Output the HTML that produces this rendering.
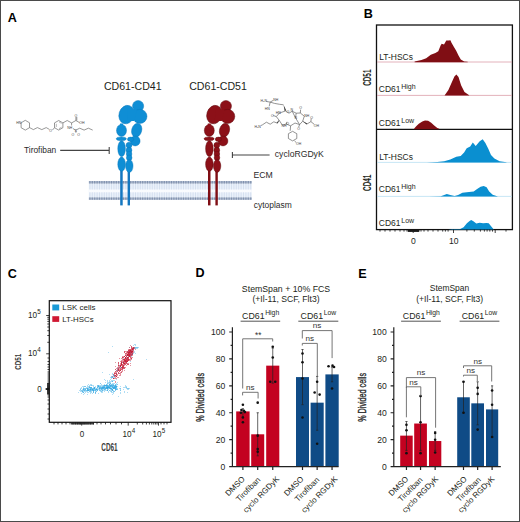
<!DOCTYPE html>
<html><head><meta charset="utf-8"><style>
html,body{margin:0;padding:0;background:#fff;width:520px;height:522px;overflow:hidden}
svg{display:block}
text{font-family:"Liberation Sans",sans-serif}
</style></head><body>
<svg width="520" height="522" viewBox="0 0 520 522" font-family="Liberation Sans, sans-serif"><text x="7.8" y="22.2" font-size="12.6" text-anchor="start" font-weight="bold" fill="#000" >A</text>
<text x="363.8" y="18.2" font-size="12.6" text-anchor="start" font-weight="bold" fill="#000" >B</text>
<text x="7.8" y="277.9" font-size="12.6" text-anchor="start" font-weight="bold" fill="#000" >C</text>
<text x="195.4" y="277.3" font-size="12.6" text-anchor="start" font-weight="bold" fill="#000" >D</text>
<text x="358.2" y="277.5" font-size="12.6" text-anchor="start" font-weight="bold" fill="#000" >E</text>
<text x="103.9" y="89.6" font-size="10.6" text-anchor="start" font-weight="normal" fill="#231f20" >CD61-CD41</text>
<text x="189.2" y="89.6" font-size="10.6" text-anchor="start" font-weight="normal" fill="#231f20" >CD61-CD51</text>
<rect x="88.8" y="183.4" width="163" height="14" fill="#ebf2fb"/><rect x="88.8" y="189.4" width="163" height="3" fill="#f9fbfe"/><path d="M89.9 183.5V189.5M89.9 192.3V197.5M92.3 183.5V189.5M92.3 192.3V197.5M94.7 183.5V189.5M94.7 192.3V197.5M97.1 183.5V189.5M97.1 192.3V197.5M99.5 183.5V189.5M99.5 192.3V197.5M101.9 183.5V189.5M101.9 192.3V197.5M104.3 183.5V189.5M104.3 192.3V197.5M106.7 183.5V189.5M106.7 192.3V197.5M109.1 183.5V189.5M109.1 192.3V197.5M111.5 183.5V189.5M111.5 192.3V197.5M113.9 183.5V189.5M113.9 192.3V197.5M116.3 183.5V189.5M116.3 192.3V197.5M118.7 183.5V189.5M118.7 192.3V197.5M121.1 183.5V189.5M121.1 192.3V197.5M123.5 183.5V189.5M123.5 192.3V197.5M125.9 183.5V189.5M125.9 192.3V197.5M128.3 183.5V189.5M128.3 192.3V197.5M130.7 183.5V189.5M130.7 192.3V197.5M133.1 183.5V189.5M133.1 192.3V197.5M135.5 183.5V189.5M135.5 192.3V197.5M137.9 183.5V189.5M137.9 192.3V197.5M140.3 183.5V189.5M140.3 192.3V197.5M142.7 183.5V189.5M142.7 192.3V197.5M145.1 183.5V189.5M145.1 192.3V197.5M147.5 183.5V189.5M147.5 192.3V197.5M149.9 183.5V189.5M149.9 192.3V197.5M152.3 183.5V189.5M152.3 192.3V197.5M154.7 183.5V189.5M154.7 192.3V197.5M157.1 183.5V189.5M157.1 192.3V197.5M159.5 183.5V189.5M159.5 192.3V197.5M161.9 183.5V189.5M161.9 192.3V197.5M164.3 183.5V189.5M164.3 192.3V197.5M166.7 183.5V189.5M166.7 192.3V197.5M169.1 183.5V189.5M169.1 192.3V197.5M171.5 183.5V189.5M171.5 192.3V197.5M173.9 183.5V189.5M173.9 192.3V197.5M176.3 183.5V189.5M176.3 192.3V197.5M178.7 183.5V189.5M178.7 192.3V197.5M181.1 183.5V189.5M181.1 192.3V197.5M183.5 183.5V189.5M183.5 192.3V197.5M185.9 183.5V189.5M185.9 192.3V197.5M188.3 183.5V189.5M188.3 192.3V197.5M190.7 183.5V189.5M190.7 192.3V197.5M193.1 183.5V189.5M193.1 192.3V197.5M195.5 183.5V189.5M195.5 192.3V197.5M197.9 183.5V189.5M197.9 192.3V197.5M200.3 183.5V189.5M200.3 192.3V197.5M202.7 183.5V189.5M202.7 192.3V197.5M205.1 183.5V189.5M205.1 192.3V197.5M207.5 183.5V189.5M207.5 192.3V197.5M209.9 183.5V189.5M209.9 192.3V197.5M212.3 183.5V189.5M212.3 192.3V197.5M214.7 183.5V189.5M214.7 192.3V197.5M217.1 183.5V189.5M217.1 192.3V197.5M219.5 183.5V189.5M219.5 192.3V197.5M221.9 183.5V189.5M221.9 192.3V197.5M224.3 183.5V189.5M224.3 192.3V197.5M226.7 183.5V189.5M226.7 192.3V197.5M229.1 183.5V189.5M229.1 192.3V197.5M231.5 183.5V189.5M231.5 192.3V197.5M233.9 183.5V189.5M233.9 192.3V197.5M236.3 183.5V189.5M236.3 192.3V197.5M238.7 183.5V189.5M238.7 192.3V197.5M241.1 183.5V189.5M241.1 192.3V197.5M243.5 183.5V189.5M243.5 192.3V197.5M245.9 183.5V189.5M245.9 192.3V197.5M248.3 183.5V189.5M248.3 192.3V197.5M250.7 183.5V189.5M250.7 192.3V197.5" stroke="#cfdbec" stroke-width="0.8" fill="none"/><rect x="88.8" y="181.1" width="163" height="2.4" fill="#b2bed2"/><rect x="88.8" y="197.4" width="163" height="2.4" fill="#b2bed2"/><path d="M89.9 181.1v2.4M89.9 197.4v2.4M92.3 181.1v2.4M92.3 197.4v2.4M94.7 181.1v2.4M94.7 197.4v2.4M97.1 181.1v2.4M97.1 197.4v2.4M99.5 181.1v2.4M99.5 197.4v2.4M101.9 181.1v2.4M101.9 197.4v2.4M104.3 181.1v2.4M104.3 197.4v2.4M106.7 181.1v2.4M106.7 197.4v2.4M109.1 181.1v2.4M109.1 197.4v2.4M111.5 181.1v2.4M111.5 197.4v2.4M113.9 181.1v2.4M113.9 197.4v2.4M116.3 181.1v2.4M116.3 197.4v2.4M118.7 181.1v2.4M118.7 197.4v2.4M121.1 181.1v2.4M121.1 197.4v2.4M123.5 181.1v2.4M123.5 197.4v2.4M125.9 181.1v2.4M125.9 197.4v2.4M128.3 181.1v2.4M128.3 197.4v2.4M130.7 181.1v2.4M130.7 197.4v2.4M133.1 181.1v2.4M133.1 197.4v2.4M135.5 181.1v2.4M135.5 197.4v2.4M137.9 181.1v2.4M137.9 197.4v2.4M140.3 181.1v2.4M140.3 197.4v2.4M142.7 181.1v2.4M142.7 197.4v2.4M145.1 181.1v2.4M145.1 197.4v2.4M147.5 181.1v2.4M147.5 197.4v2.4M149.9 181.1v2.4M149.9 197.4v2.4M152.3 181.1v2.4M152.3 197.4v2.4M154.7 181.1v2.4M154.7 197.4v2.4M157.1 181.1v2.4M157.1 197.4v2.4M159.5 181.1v2.4M159.5 197.4v2.4M161.9 181.1v2.4M161.9 197.4v2.4M164.3 181.1v2.4M164.3 197.4v2.4M166.7 181.1v2.4M166.7 197.4v2.4M169.1 181.1v2.4M169.1 197.4v2.4M171.5 181.1v2.4M171.5 197.4v2.4M173.9 181.1v2.4M173.9 197.4v2.4M176.3 181.1v2.4M176.3 197.4v2.4M178.7 181.1v2.4M178.7 197.4v2.4M181.1 181.1v2.4M181.1 197.4v2.4M183.5 181.1v2.4M183.5 197.4v2.4M185.9 181.1v2.4M185.9 197.4v2.4M188.3 181.1v2.4M188.3 197.4v2.4M190.7 181.1v2.4M190.7 197.4v2.4M193.1 181.1v2.4M193.1 197.4v2.4M195.5 181.1v2.4M195.5 197.4v2.4M197.9 181.1v2.4M197.9 197.4v2.4M200.3 181.1v2.4M200.3 197.4v2.4M202.7 181.1v2.4M202.7 197.4v2.4M205.1 181.1v2.4M205.1 197.4v2.4M207.5 181.1v2.4M207.5 197.4v2.4M209.9 181.1v2.4M209.9 197.4v2.4M212.3 181.1v2.4M212.3 197.4v2.4M214.7 181.1v2.4M214.7 197.4v2.4M217.1 181.1v2.4M217.1 197.4v2.4M219.5 181.1v2.4M219.5 197.4v2.4M221.9 181.1v2.4M221.9 197.4v2.4M224.3 181.1v2.4M224.3 197.4v2.4M226.7 181.1v2.4M226.7 197.4v2.4M229.1 181.1v2.4M229.1 197.4v2.4M231.5 181.1v2.4M231.5 197.4v2.4M233.9 181.1v2.4M233.9 197.4v2.4M236.3 181.1v2.4M236.3 197.4v2.4M238.7 181.1v2.4M238.7 197.4v2.4M241.1 181.1v2.4M241.1 197.4v2.4M243.5 181.1v2.4M243.5 197.4v2.4M245.9 181.1v2.4M245.9 197.4v2.4M248.3 181.1v2.4M248.3 197.4v2.4M250.7 181.1v2.4M250.7 197.4v2.4" stroke="#8192ae" stroke-width="1.2" fill="none"/>
<g transform="translate(0,0)" fill="#0f8ed5" stroke="#0a78bd" stroke-width="0.45"><rect x="120.2" y="166" width="2.5" height="39.4" fill="#1477c0" stroke="none"/><rect x="127.6" y="166" width="2.4" height="39.4" fill="#1477c0" stroke="none"/><ellipse cx="126.6" cy="114.6" rx="7.6" ry="9.4" transform="rotate(18 126.6 114.6)"/><circle cx="138.1" cy="106.1" r="5.6"/><circle cx="139.9" cy="116.4" r="7.1"/><path d="M128 108L137 110L134 121L127 121Z" stroke="none"/><ellipse cx="121.5" cy="130.4" rx="5" ry="6"/><path d="M120 123.5h3v2h-3z" stroke="none"/><ellipse cx="121.3" cy="138.8" rx="5.1" ry="1.9"/><ellipse cx="121.6" cy="148.7" rx="3.8" ry="8"/><ellipse cx="121.6" cy="164.2" rx="3.8" ry="7.1"/><ellipse cx="136.7" cy="130.2" rx="5" ry="7" transform="rotate(15 136.7 130.2)"/><circle cx="135.2" cy="141" r="4.9"/><ellipse cx="130.6" cy="139.3" rx="3.1" ry="2.2"/><circle cx="129" cy="145.2" r="2.9"/><circle cx="129" cy="150.2" r="2.9"/><circle cx="129.1" cy="154" r="2.8"/><circle cx="129.2" cy="157.8" r="2.8"/><ellipse cx="129.3" cy="166" rx="3.7" ry="6.4"/></g>
<g transform="translate(87.8,0)" fill="#8c1018" stroke="#5e0a0e" stroke-width="0.45"><rect x="120.2" y="166" width="2.5" height="39.4" fill="#7f0e14" stroke="none"/><rect x="127.6" y="166" width="2.4" height="39.4" fill="#7f0e14" stroke="none"/><ellipse cx="126.6" cy="114.6" rx="7.6" ry="9.4" transform="rotate(18 126.6 114.6)"/><circle cx="138.1" cy="106.1" r="5.6"/><circle cx="139.9" cy="116.4" r="7.1"/><path d="M128 108L137 110L134 121L127 121Z" stroke="none"/><ellipse cx="121.5" cy="130.4" rx="5" ry="6"/><path d="M120 123.5h3v2h-3z" stroke="none"/><ellipse cx="121.3" cy="138.8" rx="5.1" ry="1.9"/><ellipse cx="121.6" cy="148.7" rx="3.8" ry="8"/><ellipse cx="121.6" cy="164.2" rx="3.8" ry="7.1"/><ellipse cx="136.7" cy="130.2" rx="5" ry="7" transform="rotate(15 136.7 130.2)"/><circle cx="135.2" cy="141" r="4.9"/><ellipse cx="130.6" cy="139.3" rx="3.1" ry="2.2"/><circle cx="129" cy="145.2" r="2.9"/><circle cx="129" cy="150.2" r="2.9"/><circle cx="129.1" cy="154" r="2.8"/><circle cx="129.2" cy="157.8" r="2.8"/><ellipse cx="129.3" cy="166" rx="3.7" ry="6.4"/></g>
<path d="M60.2 150.4H109.2M109.2 147V154" stroke="#444" stroke-width="1.1" fill="none"/>
<path d="M232.4 155H269.6M232.4 151.9V158.1" stroke="#444" stroke-width="1.1" fill="none"/>
<text x="24" y="153.3" font-size="8.4" text-anchor="start" font-weight="normal" fill="#2b2b2b" >Tirofiban</text>
<text x="274.8" y="157.1" font-size="8.65" text-anchor="start" font-weight="normal" fill="#2b2b2b" >cycloRGDyK</text>
<text x="253.5" y="178.3" font-size="8.7" text-anchor="start" font-weight="normal" fill="#2b2b2b" >ECM</text>
<text x="253.8" y="207.7" font-size="8.45" text-anchor="start" font-weight="normal" fill="#2b2b2b" >cytoplasm</text>
<path d="M29.5 127.7L25.3 130.1L21.1 127.7L21.1 122.8L25.3 120.3L29.5 122.8ZM29.5 127.6L33.4 129.6L37.4 127.6L41.8 129.6L46.2 127.6L49.4 129.4M62.9 127.7L58.7 130.1L54.5 127.7L54.5 122.9L58.7 120.5L62.9 122.9ZM52.5 130L54.5 127.7M62.9 122.9L67.2 120.5L71.6 122.9L75.9 120.5L75.9 117M76.8 120.5L76.8 117M75.9 120.5L79.5 122.6M71.6 122.9L71.6 125.5M73 128.6L75.7 130.1M75.9 130.1L79.7 128.2L84.1 130.1L88.4 128.2L92.7 130.1M75.9 131V132.8" stroke="#606060" stroke-width="0.65" fill="none"/>
<path d="M56.3 123.8L56.3 127M59 121.9L61.6 123.4M59 128.7L61.6 127.2" stroke="#707070" stroke-width="0.5" fill="none"/>
<text x="16.3" y="124.2" font-size="3.5" fill="#444">HN</text>
<text x="49.2" y="132.3" font-size="3.5" fill="#444">O</text>
<text x="74.6" y="116.5" font-size="3.5" fill="#444">O</text>
<text x="79.2" y="124.2" font-size="3.5" fill="#444">OH</text>
<text x="67.2" y="128.8" font-size="3.5" fill="#444">NH</text>
<text x="74.6" y="132.2" font-size="3.5" fill="#444">S</text>
<text x="71.4" y="135.8" font-size="3.5" fill="#444">O</text>
<text x="77.2" y="135.8" font-size="3.5" fill="#444">O</text>
<path d="M266.5 101.5L270.2 102.1L273.5 100.2M270.2 102.1L269.2 106.3M270.2 102.1L274.5 103.4L279.6 104.3L283.5 104.8M279.5 113L285.4 111L289 113.2L292.2 111.2L296.2 113.2L300.3 113L304.3 116.2L302.7 121.2L299.6 124.6L295 123L290.6 125.8L286.2 124L282.4 125.2L279.1 120.2L276.3 116.6ZM292.2 111.2L295.5 117.8L299.6 124.6M296.2 113.2L295.5 117.8M300.3 113L300.6 109.6M299.6 124.6L298.6 127.2M302.7 121.2L307 124L310.9 121.6L311.2 118.6M310.9 121.6L314.3 124.4M276.3 116.6L273.3 115.5M279.1 120.2L277.2 123.1L273.8 121.8L270.2 124.2L266.4 122.2L262.5 124.8L260.8 125.6M290.6 125.8L290.2 130.8M296.8 138.5L292.6 140.9L288.4 138.5L288.4 133.7L292.6 131.3L296.8 133.7ZM294.5 140.9L296.3 142.6M286.2 124L287 121.8" stroke="#5a5a5a" stroke-width="0.65" fill="none"/>
<path d="M283.5 104.8L286.3 110.6L284.6 110.9Z M302.7 121.2L307.3 123.5L306.6 124.6Z M279.1 120.2L277.8 123.6L276.6 122.8Z" fill="#444"/>
<text x="260.5" y="101.5" font-size="3.5" fill="#444">H₂N</text>
<text x="273.2" y="100.5" font-size="3.5" fill="#444">NH</text>
<text x="264.8" y="109.5" font-size="3.5" fill="#444">HN</text>
<text x="286.6" y="113.3" font-size="3.5" fill="#444">O</text>
<text x="290.6" y="111.2" font-size="3.5" fill="#444">N</text>
<text x="299.3" y="109.2" font-size="3.5" fill="#444">O</text>
<text x="304.2" y="117.2" font-size="3.5" fill="#444">NH</text>
<text x="271.1" y="116.5" font-size="3.5" fill="#444">O</text>
<text x="275.8" y="113.8" font-size="3.5" fill="#444">HN</text>
<text x="294.4" y="119.4" font-size="3.5" fill="#444">N</text>
<text x="297.2" y="129.8" font-size="3.5" fill="#444">O</text>
<text x="281.6" y="126.6" font-size="3.5" fill="#444">NH</text>
<text x="286.3" y="125.4" font-size="3.5" fill="#444">O</text>
<text x="310.2" y="119" font-size="3.5" fill="#444">O</text>
<text x="313.8" y="127.3" font-size="3.5" fill="#444">OH</text>
<text x="254.4" y="128.4" font-size="3.5" fill="#444">H₂N</text>
<text x="296" y="145" font-size="3.5" fill="#444">OH</text>
<rect x="376.5" y="25" width="135.89999999999998" height="204.6" fill="none" stroke="#111" stroke-width="1.3"/>
<path d="M377 62H512M377 95.4H512" stroke="#dc9eaa" stroke-width="0.8"/>
<path d="M377 162.4H512M377 196.4H512" stroke="#b9dff2" stroke-width="0.8"/>
<path d="M376.5 129.4H512.4" stroke="#111" stroke-width="1.2"/>
<path d="M414.6 62.2L414.6 61.6L421.5 60L426.2 58.3L430.8 54.8L435.4 53.1L438.3 51.3L440.6 45.6L441.7 43.8L444 44.4L446.3 40.6L448.7 40.4L450.4 40.2L451.5 42.7L453.8 46.7L456.2 50.8L458.5 55.4L460.8 59.4L464.2 61.4L467.7 61.8L467.7 62.2Z" fill="#800e14"/>
<path d="M444.7 95.6L444.7 95.3L448.4 89.9L451.7 82.5L454.4 76.4L456.4 74.4L458.5 77.1L461.1 85.2L464.5 91.9L469.2 95.3L469.2 95.6Z" fill="#800e14"/>
<path d="M414.2 129.2L414.2 128.6L416.2 126.2L418.8 123.8L422.3 121.5L425 120.4L428.1 120.8L431.2 122.7L434.2 125.4L437.3 128.1L439.2 128.8L439.2 129.2Z" fill="#800e14"/>
<path d="M426.9 162.6L426.9 162.4L437.3 162L444.2 161.2L450.3 159.4L456.3 156.8L460.7 156L464.1 152.5L466.7 148.2L470.2 146.4L472.8 142.5L475.7 145.9L479.7 141.2L482.7 139.2L485.4 143L488.4 149L491 155.1L494.4 158.6L499.6 161.2L506.5 162.2L506.5 162.6Z" fill="#0a8fd0"/>
<path d="M428.7 196.6L428.7 196.4L440.8 196.3L444.2 195.1L446.8 194.1L450.3 195.1L454.6 196L458.1 195.1L462.4 192.8L466.7 192.2L473.7 191.6L477.1 189L480.6 186.8L483.7 185.9L486.6 187.3L489.2 191.6L492.7 194.7L497.9 196.4L497.9 196.6Z" fill="#0a8fd0"/>
<path d="M448.1 229.6L448.1 229.6L452.1 229L460.2 229L463.6 227.2L466.9 223.2L469.6 220.9L471.2 220.1L473.4 221.2L476.3 223.6L479.7 222.8L483.1 223.2L486.4 222.9L488.7 223.2L491.1 226.3L493.8 229.4L493.8 229.6Z" fill="#0a8fd0"/>
<text x="379.3" y="59.6" font-size="8.45" text-anchor="start" font-weight="normal" fill="#231f20" >LT-HSCs</text>
<text x="379.3" y="159.6" font-size="8.45" text-anchor="start" font-weight="normal" fill="#231f20" >LT-HSCs</text>
<text x="378.8" y="92.2" font-size="8.5" fill="#231f20">CD61<tspan dx="0.7" dy="-3.1" font-size="7">High</tspan></text>
<text x="378.8" y="125.8" font-size="8.5" fill="#231f20">CD61<tspan dx="0.7" dy="-3.1" font-size="7">Low</tspan></text>
<text x="378.8" y="192.3" font-size="8.5" fill="#231f20">CD61<tspan dx="0.7" dy="-3.1" font-size="7">High</tspan></text>
<text x="378.8" y="225.8" font-size="8.5" fill="#231f20">CD61<tspan dx="0.7" dy="-3.1" font-size="7">Low</tspan></text>
<text transform="translate(370.5,77.7) rotate(-90) scale(0.64,1)" x="0" y="0" font-size="10" font-weight="bold" text-anchor="middle" fill="#231f20">CD51</text>
<text transform="translate(370.9,182.8) rotate(-90) scale(0.64,1)" x="0" y="0" font-size="10" font-weight="bold" text-anchor="middle" fill="#231f20">CD41</text>
<path d="M413.2 229.6V233M453.5 229.6V233M495.2 229.6V233M380 229.6V231.6M385 229.6V231.6M390 229.6V231.6M395 229.6V231.6M400 229.6V231.6M404 229.6V231.6M407 229.6V231.6M409 229.6V231.6M410.5 229.6V231.6M412 229.6V231.6M414.5 229.6V231.6M416 229.6V231.6M417.5 229.6V231.6M419 229.6V231.6M421 229.6V231.6M424 229.6V231.6M428 229.6V231.6M433 229.6V231.6M438 229.6V231.6M442.7 229.6V231.6M445.4 229.6V231.6M448.1 229.6V231.6M466.9 229.6V231.6M474.3 229.6V231.6M480.4 229.6V231.6M484.4 229.6V231.6M487.1 229.6V231.6M489.8 229.6V231.6M492.5 229.6V231.6M506 229.6V231.6" stroke="#111" stroke-width="0.8"/>
<rect x="407.8" y="229.6" width="11.2" height="2.3" fill="#1a1a1a"/>
<text x="413.5" y="244.2" font-size="8.6" text-anchor="middle" font-weight="normal" fill="#231f20" >0</text>
<text x="453.8" y="244.2" font-size="8.6" text-anchor="middle" font-weight="normal" fill="#231f20" >10</text>
<rect x="78" y="392" width="1" height="1" fill="#afddf4"/><rect x="79" y="390" width="1" height="1" fill="#afddf4"/><rect x="80" y="388" width="1" height="1" fill="#afddf4"/><rect x="80" y="389" width="1" height="1" fill="#7ec8ed"/><rect x="80" y="390" width="1" height="1" fill="#afddf4"/><rect x="80" y="391" width="1" height="1" fill="#afddf4"/><rect x="81" y="387" width="1" height="1" fill="#afddf4"/><rect x="81" y="388" width="1" height="1" fill="#afddf4"/><rect x="81" y="390" width="1" height="1" fill="#7ec8ed"/><rect x="81" y="391" width="1" height="1" fill="#afddf4"/><rect x="81" y="393" width="1" height="1" fill="#afddf4"/><rect x="82" y="386" width="1" height="1" fill="#afddf4"/><rect x="82" y="389" width="1" height="1" fill="#afddf4"/><rect x="82" y="390" width="1" height="1" fill="#7ec8ed"/><rect x="82" y="391" width="1" height="1" fill="#4cb2e5"/><rect x="82" y="392" width="1" height="1" fill="#afddf4"/><rect x="83" y="386" width="1" height="1" fill="#afddf4"/><rect x="83" y="387" width="1" height="1" fill="#afddf4"/><rect x="83" y="388" width="1" height="1" fill="#5fbae8"/><rect x="83" y="389" width="1" height="1" fill="#4cb2e5"/><rect x="83" y="390" width="1" height="1" fill="#7ec8ed"/><rect x="83" y="391" width="1" height="1" fill="#afddf4"/><rect x="83" y="392" width="1" height="1" fill="#5fbae8"/><rect x="83" y="394" width="1" height="1" fill="#afddf4"/><rect x="84" y="386" width="1" height="1" fill="#7ec8ed"/><rect x="84" y="388" width="1" height="1" fill="#7ec8ed"/><rect x="84" y="389" width="1" height="1" fill="#7ec8ed"/><rect x="84" y="390" width="1" height="1" fill="#5fbae8"/><rect x="84" y="391" width="1" height="1" fill="#afddf4"/><rect x="84" y="393" width="1" height="1" fill="#afddf4"/><rect x="85" y="386" width="1" height="1" fill="#7ec8ed"/><rect x="85" y="388" width="1" height="1" fill="#7ec8ed"/><rect x="85" y="389" width="1" height="1" fill="#5fbae8"/><rect x="85" y="390" width="1" height="1" fill="#7ec8ed"/><rect x="85" y="391" width="1" height="1" fill="#afddf4"/><rect x="85" y="392" width="1" height="1" fill="#afddf4"/><rect x="86" y="387" width="1" height="1" fill="#afddf4"/><rect x="86" y="388" width="1" height="1" fill="#7ec8ed"/><rect x="86" y="390" width="1" height="1" fill="#7ec8ed"/><rect x="86" y="391" width="1" height="1" fill="#afddf4"/><rect x="87" y="385" width="1" height="1" fill="#afddf4"/><rect x="87" y="386" width="1" height="1" fill="#afddf4"/><rect x="87" y="387" width="1" height="1" fill="#afddf4"/><rect x="87" y="388" width="1" height="1" fill="#40ade4"/><rect x="87" y="389" width="1" height="1" fill="#4cb2e5"/><rect x="87" y="390" width="1" height="1" fill="#40ade4"/><rect x="87" y="391" width="1" height="1" fill="#afddf4"/><rect x="87" y="392" width="1" height="1" fill="#afddf4"/><rect x="87" y="394" width="1" height="1" fill="#afddf4"/><rect x="88" y="384" width="1" height="1" fill="#afddf4"/><rect x="88" y="386" width="1" height="1" fill="#afddf4"/><rect x="88" y="387" width="1" height="1" fill="#afddf4"/><rect x="88" y="388" width="1" height="1" fill="#7ec8ed"/><rect x="88" y="389" width="1" height="1" fill="#5fbae8"/><rect x="88" y="390" width="1" height="1" fill="#39aae3"/><rect x="88" y="392" width="1" height="1" fill="#afddf4"/><rect x="89" y="385" width="1" height="1" fill="#afddf4"/><rect x="89" y="386" width="1" height="1" fill="#7ec8ed"/><rect x="89" y="387" width="1" height="1" fill="#4cb2e5"/><rect x="89" y="388" width="1" height="1" fill="#afddf4"/><rect x="89" y="389" width="1" height="1" fill="#5fbae8"/><rect x="89" y="390" width="1" height="1" fill="#7ec8ed"/><rect x="89" y="391" width="1" height="1" fill="#7ec8ed"/><rect x="90" y="384" width="1" height="1" fill="#afddf4"/><rect x="90" y="385" width="1" height="1" fill="#afddf4"/><rect x="90" y="387" width="1" height="1" fill="#4cb2e5"/><rect x="90" y="388" width="1" height="1" fill="#5fbae8"/><rect x="90" y="389" width="1" height="1" fill="#32a7e2"/><rect x="90" y="390" width="1" height="1" fill="#5fbae8"/><rect x="90" y="391" width="1" height="1" fill="#7ec8ed"/><rect x="90" y="392" width="1" height="1" fill="#afddf4"/><rect x="90" y="393" width="1" height="1" fill="#afddf4"/><rect x="91" y="384" width="1" height="1" fill="#afddf4"/><rect x="91" y="385" width="1" height="1" fill="#7ec8ed"/><rect x="91" y="387" width="1" height="1" fill="#4cb2e5"/><rect x="91" y="388" width="1" height="1" fill="#5fbae8"/><rect x="91" y="389" width="1" height="1" fill="#5fbae8"/><rect x="91" y="390" width="1" height="1" fill="#7ec8ed"/><rect x="91" y="391" width="1" height="1" fill="#afddf4"/><rect x="91" y="392" width="1" height="1" fill="#afddf4"/><rect x="92" y="385" width="1" height="1" fill="#afddf4"/><rect x="92" y="388" width="1" height="1" fill="#7ec8ed"/><rect x="92" y="389" width="1" height="1" fill="#30a6e1"/><rect x="92" y="390" width="1" height="1" fill="#5fbae8"/><rect x="92" y="393" width="1" height="1" fill="#afddf4"/><rect x="93" y="385" width="1" height="1" fill="#afddf4"/><rect x="93" y="386" width="1" height="1" fill="#afddf4"/><rect x="93" y="387" width="1" height="1" fill="#afddf4"/><rect x="93" y="388" width="1" height="1" fill="#5fbae8"/><rect x="93" y="389" width="1" height="1" fill="#5fbae8"/><rect x="93" y="390" width="1" height="1" fill="#39aae3"/><rect x="93" y="391" width="1" height="1" fill="#5fbae8"/><rect x="93" y="392" width="1" height="1" fill="#5fbae8"/><rect x="94" y="387" width="1" height="1" fill="#40ade4"/><rect x="94" y="388" width="1" height="1" fill="#34a8e2"/><rect x="94" y="389" width="1" height="1" fill="#7ec8ed"/><rect x="94" y="390" width="1" height="1" fill="#7ec8ed"/><rect x="95" y="386" width="1" height="1" fill="#afddf4"/><rect x="95" y="387" width="1" height="1" fill="#afddf4"/><rect x="95" y="388" width="1" height="1" fill="#afddf4"/><rect x="95" y="389" width="1" height="1" fill="#5fbae8"/><rect x="95" y="390" width="1" height="1" fill="#5fbae8"/><rect x="95" y="391" width="1" height="1" fill="#afddf4"/><rect x="95" y="392" width="1" height="1" fill="#5fbae8"/><rect x="95" y="393" width="1" height="1" fill="#7ec8ed"/><rect x="96" y="388" width="1" height="1" fill="#7ec8ed"/><rect x="96" y="389" width="1" height="1" fill="#39aae3"/><rect x="96" y="390" width="1" height="1" fill="#afddf4"/><rect x="96" y="391" width="1" height="1" fill="#7ec8ed"/><rect x="97" y="385" width="1" height="1" fill="#7ec8ed"/><rect x="97" y="386" width="1" height="1" fill="#7ec8ed"/><rect x="97" y="387" width="1" height="1" fill="#5fbae8"/><rect x="97" y="388" width="1" height="1" fill="#afddf4"/><rect x="97" y="389" width="1" height="1" fill="#5fbae8"/><rect x="97" y="390" width="1" height="1" fill="#5fbae8"/><rect x="98" y="385" width="1" height="1" fill="#5fbae8"/><rect x="98" y="386" width="1" height="1" fill="#40ade4"/><rect x="98" y="387" width="1" height="1" fill="#afddf4"/><rect x="98" y="388" width="1" height="1" fill="#afddf4"/><rect x="98" y="389" width="1" height="1" fill="#afddf4"/><rect x="98" y="393" width="1" height="1" fill="#afddf4"/><rect x="99" y="385" width="1" height="1" fill="#afddf4"/><rect x="99" y="386" width="1" height="1" fill="#7ec8ed"/><rect x="99" y="387" width="1" height="1" fill="#5fbae8"/><rect x="99" y="388" width="1" height="1" fill="#39aae3"/><rect x="99" y="389" width="1" height="1" fill="#7ec8ed"/><rect x="99" y="390" width="1" height="1" fill="#7ec8ed"/><rect x="100" y="383" width="1" height="1" fill="#7ec8ed"/><rect x="100" y="385" width="1" height="1" fill="#afddf4"/><rect x="100" y="386" width="1" height="1" fill="#7ec8ed"/><rect x="100" y="387" width="1" height="1" fill="#5fbae8"/><rect x="100" y="388" width="1" height="1" fill="#5fbae8"/><rect x="100" y="389" width="1" height="1" fill="#afddf4"/><rect x="100" y="390" width="1" height="1" fill="#7ec8ed"/><rect x="100" y="391" width="1" height="1" fill="#afddf4"/><rect x="101" y="384" width="1" height="1" fill="#afddf4"/><rect x="101" y="385" width="1" height="1" fill="#afddf4"/><rect x="101" y="386" width="1" height="1" fill="#afddf4"/><rect x="101" y="387" width="1" height="1" fill="#5fbae8"/><rect x="101" y="388" width="1" height="1" fill="#40ade4"/><rect x="101" y="389" width="1" height="1" fill="#5fbae8"/><rect x="101" y="390" width="1" height="1" fill="#afddf4"/><rect x="101" y="391" width="1" height="1" fill="#7ec8ed"/><rect x="101" y="392" width="1" height="1" fill="#afddf4"/><rect x="102" y="372" width="1" height="1" fill="#afddf4"/><rect x="102" y="385" width="1" height="1" fill="#afddf4"/><rect x="102" y="386" width="1" height="1" fill="#7ec8ed"/><rect x="102" y="387" width="1" height="1" fill="#39aae3"/><rect x="102" y="388" width="1" height="1" fill="#40ade4"/><rect x="102" y="389" width="1" height="1" fill="#7ec8ed"/><rect x="102" y="390" width="1" height="1" fill="#5fbae8"/><rect x="102" y="391" width="1" height="1" fill="#afddf4"/><rect x="102" y="392" width="1" height="1" fill="#afddf4"/><rect x="103" y="385" width="1" height="1" fill="#7ec8ed"/><rect x="103" y="386" width="1" height="1" fill="#5fbae8"/><rect x="103" y="387" width="1" height="1" fill="#39aae3"/><rect x="103" y="388" width="1" height="1" fill="#4cb2e5"/><rect x="103" y="389" width="1" height="1" fill="#afddf4"/><rect x="103" y="390" width="1" height="1" fill="#afddf4"/><rect x="104" y="379" width="1" height="1" fill="#afddf4"/><rect x="104" y="384" width="1" height="1" fill="#afddf4"/><rect x="104" y="385" width="1" height="1" fill="#40ade4"/><rect x="104" y="386" width="1" height="1" fill="#5fbae8"/><rect x="104" y="387" width="1" height="1" fill="#40ade4"/><rect x="104" y="388" width="1" height="1" fill="#5fbae8"/><rect x="104" y="389" width="1" height="1" fill="#5fbae8"/><rect x="104" y="390" width="1" height="1" fill="#afddf4"/><rect x="104" y="391" width="1" height="1" fill="#afddf4"/><rect x="105" y="380" width="1" height="1" fill="#afddf4"/><rect x="105" y="382" width="1" height="1" fill="#afddf4"/><rect x="105" y="385" width="1" height="1" fill="#40ade4"/><rect x="105" y="386" width="1" height="1" fill="#afddf4"/><rect x="105" y="387" width="1" height="1" fill="#7ec8ed"/><rect x="105" y="388" width="1" height="1" fill="#40ade4"/><rect x="105" y="389" width="1" height="1" fill="#7ec8ed"/><rect x="105" y="390" width="1" height="1" fill="#afddf4"/><rect x="106" y="384" width="1" height="1" fill="#7ec8ed"/><rect x="106" y="385" width="1" height="1" fill="#40ade4"/><rect x="106" y="386" width="1" height="1" fill="#5fbae8"/><rect x="106" y="387" width="1" height="1" fill="#32a7e2"/><rect x="106" y="388" width="1" height="1" fill="#4cb2e5"/><rect x="106" y="390" width="1" height="1" fill="#afddf4"/><rect x="107" y="380" width="1" height="1" fill="#afddf4"/><rect x="107" y="381" width="1" height="1" fill="#afddf4"/><rect x="107" y="382" width="1" height="1" fill="#afddf4"/><rect x="107" y="383" width="1" height="1" fill="#7ec8ed"/><rect x="107" y="384" width="1" height="1" fill="#afddf4"/><rect x="107" y="385" width="1" height="1" fill="#4cb2e5"/><rect x="107" y="386" width="1" height="1" fill="#4cb2e5"/><rect x="107" y="387" width="1" height="1" fill="#2fa6e1"/><rect x="107" y="388" width="1" height="1" fill="#34a8e2"/><rect x="107" y="389" width="1" height="1" fill="#7ec8ed"/><rect x="107" y="390" width="1" height="1" fill="#4cb2e5"/><rect x="108" y="352" width="1" height="1" fill="#afddf4"/><rect x="108" y="382" width="1" height="1" fill="#afddf4"/><rect x="108" y="383" width="1" height="1" fill="#afddf4"/><rect x="108" y="385" width="1" height="1" fill="#7ec8ed"/><rect x="108" y="386" width="1" height="1" fill="#4cb2e5"/><rect x="108" y="387" width="1" height="1" fill="#34a8e2"/><rect x="108" y="388" width="1" height="1" fill="#7ec8ed"/><rect x="108" y="389" width="1" height="1" fill="#afddf4"/><rect x="108" y="391" width="1" height="1" fill="#afddf4"/><rect x="108" y="392" width="1" height="1" fill="#afddf4"/><rect x="109" y="374" width="1" height="1" fill="#afddf4"/><rect x="109" y="380" width="1" height="1" fill="#afddf4"/><rect x="109" y="381" width="1" height="1" fill="#afddf4"/><rect x="109" y="382" width="1" height="1" fill="#7ec8ed"/><rect x="109" y="383" width="1" height="1" fill="#afddf4"/><rect x="109" y="384" width="1" height="1" fill="#40ade4"/><rect x="109" y="385" width="1" height="1" fill="#5fbae8"/><rect x="109" y="386" width="1" height="1" fill="#5fbae8"/><rect x="109" y="387" width="1" height="1" fill="#34a8e2"/><rect x="109" y="388" width="1" height="1" fill="#5fbae8"/><rect x="109" y="390" width="1" height="1" fill="#7ec8ed"/><rect x="110" y="377" width="1" height="1" fill="#afddf4"/><rect x="110" y="379" width="1" height="1" fill="#afddf4"/><rect x="110" y="381" width="1" height="1" fill="#afddf4"/><rect x="110" y="382" width="1" height="1" fill="#afddf4"/><rect x="110" y="383" width="1" height="1" fill="#5fbae8"/><rect x="110" y="384" width="1" height="1" fill="#afddf4"/><rect x="110" y="385" width="1" height="1" fill="#40ade4"/><rect x="110" y="386" width="1" height="1" fill="#4cb2e5"/><rect x="110" y="387" width="1" height="1" fill="#7ec8ed"/><rect x="110" y="388" width="1" height="1" fill="#34a8e2"/><rect x="110" y="389" width="1" height="1" fill="#afddf4"/><rect x="110" y="390" width="1" height="1" fill="#afddf4"/><rect x="110" y="391" width="1" height="1" fill="#afddf4"/><rect x="111" y="376" width="1" height="1" fill="#7ec8ed"/><rect x="111" y="377" width="1" height="1" fill="#7ec8ed"/><rect x="111" y="378" width="1" height="1" fill="#afddf4"/><rect x="111" y="380" width="1" height="1" fill="#afddf4"/><rect x="111" y="381" width="1" height="1" fill="#afddf4"/><rect x="111" y="384" width="1" height="1" fill="#7ec8ed"/><rect x="111" y="385" width="1" height="1" fill="#4cb2e5"/><rect x="111" y="386" width="1" height="1" fill="#5fbae8"/><rect x="111" y="387" width="1" height="1" fill="#afddf4"/><rect x="111" y="388" width="1" height="1" fill="#4cb2e5"/><rect x="111" y="389" width="1" height="1" fill="#5fbae8"/><rect x="111" y="390" width="1" height="1" fill="#afddf4"/><rect x="111" y="391" width="1" height="1" fill="#7ec8ed"/><rect x="111" y="392" width="1" height="1" fill="#afddf4"/><rect x="112" y="346" width="1" height="1" fill="#afddf4"/><rect x="112" y="373" width="1" height="1" fill="#afddf4"/><rect x="112" y="374" width="1" height="1" fill="#afddf4"/><rect x="112" y="376" width="1" height="1" fill="#b9829b"/><rect x="112" y="377" width="1" height="1" fill="#5fbae8"/><rect x="112" y="380" width="1" height="1" fill="#afddf4"/><rect x="112" y="381" width="1" height="1" fill="#5fbae8"/><rect x="112" y="383" width="1" height="1" fill="#afddf4"/><rect x="112" y="384" width="1" height="1" fill="#7ec8ed"/><rect x="112" y="385" width="1" height="1" fill="#5fbae8"/><rect x="112" y="386" width="1" height="1" fill="#4cb2e5"/><rect x="112" y="387" width="1" height="1" fill="#4cb2e5"/><rect x="112" y="388" width="1" height="1" fill="#afddf4"/><rect x="112" y="389" width="1" height="1" fill="#34a8e2"/><rect x="112" y="390" width="1" height="1" fill="#4cb2e5"/><rect x="112" y="392" width="1" height="1" fill="#afddf4"/><rect x="112" y="394" width="1" height="1" fill="#afddf4"/><rect x="113" y="374" width="1" height="1" fill="#b9829b"/><rect x="113" y="375" width="1" height="1" fill="#5fbae8"/><rect x="113" y="376" width="1" height="1" fill="#afddf4"/><rect x="113" y="377" width="1" height="1" fill="#afddf4"/><rect x="113" y="378" width="1" height="1" fill="#b8324e"/><rect x="113" y="380" width="1" height="1" fill="#afddf4"/><rect x="113" y="383" width="1" height="1" fill="#afddf4"/><rect x="113" y="384" width="1" height="1" fill="#7ec8ed"/><rect x="113" y="385" width="1" height="1" fill="#4cb2e5"/><rect x="113" y="386" width="1" height="1" fill="#7ec8ed"/><rect x="113" y="387" width="1" height="1" fill="#40ade4"/><rect x="113" y="388" width="1" height="1" fill="#34a8e2"/><rect x="113" y="390" width="1" height="1" fill="#afddf4"/><rect x="113" y="391" width="1" height="1" fill="#7ec8ed"/><rect x="113" y="392" width="1" height="1" fill="#afddf4"/><rect x="113" y="393" width="1" height="1" fill="#afddf4"/><rect x="114" y="372" width="1" height="1" fill="#e495a1"/><rect x="114" y="373" width="1" height="1" fill="#ce3b51"/><rect x="114" y="374" width="1" height="1" fill="#e495a1"/><rect x="114" y="375" width="1" height="1" fill="#be516a"/><rect x="114" y="376" width="1" height="1" fill="#9d7797"/><rect x="114" y="377" width="1" height="1" fill="#afddf4"/><rect x="114" y="378" width="1" height="1" fill="#e495a1"/><rect x="114" y="380" width="1" height="1" fill="#afddf4"/><rect x="114" y="383" width="1" height="1" fill="#afddf4"/><rect x="114" y="385" width="1" height="1" fill="#7ec8ed"/><rect x="114" y="386" width="1" height="1" fill="#4cb2e5"/><rect x="114" y="387" width="1" height="1" fill="#32a7e2"/><rect x="114" y="388" width="1" height="1" fill="#4cb2e5"/><rect x="114" y="391" width="1" height="1" fill="#7ec8ed"/><rect x="115" y="362" width="1" height="1" fill="#e495a1"/><rect x="115" y="366" width="1" height="1" fill="#e495a1"/><rect x="115" y="369" width="1" height="1" fill="#d65b6d"/><rect x="115" y="371" width="1" height="1" fill="#d65b6d"/><rect x="115" y="372" width="1" height="1" fill="#e495a1"/><rect x="115" y="373" width="1" height="1" fill="#d65b6d"/><rect x="115" y="375" width="1" height="1" fill="#c92a41"/><rect x="115" y="376" width="1" height="1" fill="#e495a1"/><rect x="115" y="377" width="1" height="1" fill="#e495a1"/><rect x="115" y="378" width="1" height="1" fill="#e495a1"/><rect x="115" y="381" width="1" height="1" fill="#e495a1"/><rect x="115" y="382" width="1" height="1" fill="#e495a1"/><rect x="115" y="384" width="1" height="1" fill="#7ec8ed"/><rect x="115" y="385" width="1" height="1" fill="#40ade4"/><rect x="115" y="386" width="1" height="1" fill="#40ade4"/><rect x="115" y="387" width="1" height="1" fill="#40ade4"/><rect x="115" y="388" width="1" height="1" fill="#40ade4"/><rect x="115" y="389" width="1" height="1" fill="#4cb2e5"/><rect x="115" y="390" width="1" height="1" fill="#7ec8ed"/><rect x="116" y="368" width="1" height="1" fill="#e495a1"/><rect x="116" y="370" width="1" height="1" fill="#b9829b"/><rect x="116" y="371" width="1" height="1" fill="#e495a1"/><rect x="116" y="372" width="1" height="1" fill="#e495a1"/><rect x="116" y="373" width="1" height="1" fill="#af4a68"/><rect x="116" y="374" width="1" height="1" fill="#ce3b51"/><rect x="116" y="375" width="1" height="1" fill="#e495a1"/><rect x="116" y="376" width="1" height="1" fill="#c22640"/><rect x="116" y="378" width="1" height="1" fill="#e495a1"/><rect x="116" y="379" width="1" height="1" fill="#afddf4"/><rect x="116" y="383" width="1" height="1" fill="#afddf4"/><rect x="116" y="384" width="1" height="1" fill="#afddf4"/><rect x="116" y="385" width="1" height="1" fill="#afddf4"/><rect x="116" y="386" width="1" height="1" fill="#39aae3"/><rect x="116" y="387" width="1" height="1" fill="#5fbae8"/><rect x="116" y="388" width="1" height="1" fill="#7ec8ed"/><rect x="116" y="389" width="1" height="1" fill="#5fbae8"/><rect x="117" y="367" width="1" height="1" fill="#e495a1"/><rect x="117" y="368" width="1" height="1" fill="#b9829b"/><rect x="117" y="369" width="1" height="1" fill="#b9829b"/><rect x="117" y="370" width="1" height="1" fill="#9d7797"/><rect x="117" y="371" width="1" height="1" fill="#d65b6d"/><rect x="117" y="374" width="1" height="1" fill="#e495a1"/><rect x="117" y="375" width="1" height="1" fill="#e495a1"/><rect x="117" y="377" width="1" height="1" fill="#e495a1"/><rect x="117" y="382" width="1" height="1" fill="#afddf4"/><rect x="117" y="384" width="1" height="1" fill="#7ec8ed"/><rect x="117" y="386" width="1" height="1" fill="#afddf4"/><rect x="117" y="388" width="1" height="1" fill="#afddf4"/><rect x="117" y="389" width="1" height="1" fill="#7ec8ed"/><rect x="118" y="362" width="1" height="1" fill="#d65b6d"/><rect x="118" y="363" width="1" height="1" fill="#d65b6d"/><rect x="118" y="364" width="1" height="1" fill="#e495a1"/><rect x="118" y="365" width="1" height="1" fill="#ce3b51"/><rect x="118" y="366" width="1" height="1" fill="#e495a1"/><rect x="118" y="367" width="1" height="1" fill="#b9829b"/><rect x="118" y="368" width="1" height="1" fill="#be516a"/><rect x="118" y="369" width="1" height="1" fill="#c92a41"/><rect x="118" y="370" width="1" height="1" fill="#c1354f"/><rect x="118" y="372" width="1" height="1" fill="#d65b6d"/><rect x="118" y="373" width="1" height="1" fill="#d65b6d"/><rect x="118" y="377" width="1" height="1" fill="#e495a1"/><rect x="118" y="396" width="1" height="1" fill="#afddf4"/><rect x="119" y="358" width="1" height="1" fill="#e495a1"/><rect x="119" y="365" width="1" height="1" fill="#b9829b"/><rect x="119" y="366" width="1" height="1" fill="#e495a1"/><rect x="119" y="367" width="1" height="1" fill="#d65b6d"/><rect x="119" y="368" width="1" height="1" fill="#e495a1"/><rect x="119" y="369" width="1" height="1" fill="#e495a1"/><rect x="119" y="370" width="1" height="1" fill="#d65b6d"/><rect x="119" y="371" width="1" height="1" fill="#d65b6d"/><rect x="119" y="373" width="1" height="1" fill="#b9829b"/><rect x="119" y="375" width="1" height="1" fill="#e495a1"/><rect x="119" y="388" width="1" height="1" fill="#afddf4"/><rect x="120" y="361" width="1" height="1" fill="#e495a1"/><rect x="120" y="363" width="1" height="1" fill="#e495a1"/><rect x="120" y="364" width="1" height="1" fill="#e495a1"/><rect x="120" y="365" width="1" height="1" fill="#c22640"/><rect x="120" y="366" width="1" height="1" fill="#c92a41"/><rect x="120" y="367" width="1" height="1" fill="#7ec8ed"/><rect x="120" y="368" width="1" height="1" fill="#d65b6d"/><rect x="120" y="369" width="1" height="1" fill="#d65b6d"/><rect x="120" y="370" width="1" height="1" fill="#c92a41"/><rect x="120" y="372" width="1" height="1" fill="#e495a1"/><rect x="120" y="373" width="1" height="1" fill="#e495a1"/><rect x="120" y="374" width="1" height="1" fill="#e495a1"/><rect x="120" y="375" width="1" height="1" fill="#e495a1"/><rect x="120" y="386" width="1" height="1" fill="#afddf4"/><rect x="120" y="388" width="1" height="1" fill="#7ec8ed"/><rect x="120" y="389" width="1" height="1" fill="#afddf4"/><rect x="120" y="390" width="1" height="1" fill="#7ec8ed"/><rect x="120" y="392" width="1" height="1" fill="#afddf4"/><rect x="120" y="393" width="1" height="1" fill="#afddf4"/><rect x="121" y="358" width="1" height="1" fill="#e495a1"/><rect x="121" y="360" width="1" height="1" fill="#e495a1"/><rect x="121" y="361" width="1" height="1" fill="#d65b6d"/><rect x="121" y="362" width="1" height="1" fill="#c92a41"/><rect x="121" y="363" width="1" height="1" fill="#c92a41"/><rect x="121" y="364" width="1" height="1" fill="#c41731"/><rect x="121" y="365" width="1" height="1" fill="#d65b6d"/><rect x="121" y="367" width="1" height="1" fill="#be516a"/><rect x="121" y="368" width="1" height="1" fill="#e495a1"/><rect x="121" y="369" width="1" height="1" fill="#d65b6d"/><rect x="121" y="371" width="1" height="1" fill="#e495a1"/><rect x="121" y="372" width="1" height="1" fill="#d65b6d"/><rect x="122" y="356" width="1" height="1" fill="#e495a1"/><rect x="122" y="357" width="1" height="1" fill="#ce3b51"/><rect x="122" y="358" width="1" height="1" fill="#e495a1"/><rect x="122" y="359" width="1" height="1" fill="#e495a1"/><rect x="122" y="360" width="1" height="1" fill="#e495a1"/><rect x="122" y="361" width="1" height="1" fill="#e495a1"/><rect x="122" y="362" width="1" height="1" fill="#b9829b"/><rect x="122" y="364" width="1" height="1" fill="#d65b6d"/><rect x="122" y="365" width="1" height="1" fill="#d65b6d"/><rect x="122" y="366" width="1" height="1" fill="#ce3b51"/><rect x="122" y="367" width="1" height="1" fill="#c92a41"/><rect x="122" y="368" width="1" height="1" fill="#ce3b51"/><rect x="122" y="369" width="1" height="1" fill="#d65b6d"/><rect x="122" y="370" width="1" height="1" fill="#e495a1"/><rect x="122" y="371" width="1" height="1" fill="#e495a1"/><rect x="123" y="356" width="1" height="1" fill="#e495a1"/><rect x="123" y="357" width="1" height="1" fill="#d65b6d"/><rect x="123" y="358" width="1" height="1" fill="#afddf4"/><rect x="123" y="359" width="1" height="1" fill="#ce3b51"/><rect x="123" y="360" width="1" height="1" fill="#e495a1"/><rect x="123" y="361" width="1" height="1" fill="#d65b6d"/><rect x="123" y="362" width="1" height="1" fill="#c72039"/><rect x="123" y="363" width="1" height="1" fill="#ce3b51"/><rect x="123" y="364" width="1" height="1" fill="#e495a1"/><rect x="123" y="365" width="1" height="1" fill="#c1354f"/><rect x="123" y="366" width="1" height="1" fill="#ce3b51"/><rect x="123" y="367" width="1" height="1" fill="#ce3b51"/><rect x="123" y="368" width="1" height="1" fill="#d65b6d"/><rect x="123" y="387" width="1" height="1" fill="#afddf4"/><rect x="123" y="389" width="1" height="1" fill="#afddf4"/><rect x="124" y="351" width="1" height="1" fill="#d65b6d"/><rect x="124" y="352" width="1" height="1" fill="#d65b6d"/><rect x="124" y="356" width="1" height="1" fill="#c92a41"/><rect x="124" y="358" width="1" height="1" fill="#e495a1"/><rect x="124" y="359" width="1" height="1" fill="#c92a41"/><rect x="124" y="360" width="1" height="1" fill="#c92a41"/><rect x="124" y="361" width="1" height="1" fill="#ce3b51"/><rect x="124" y="362" width="1" height="1" fill="#b9829b"/><rect x="124" y="363" width="1" height="1" fill="#c31e38"/><rect x="124" y="364" width="1" height="1" fill="#d65b6d"/><rect x="124" y="365" width="1" height="1" fill="#e495a1"/><rect x="124" y="367" width="1" height="1" fill="#d65b6d"/><rect x="124" y="368" width="1" height="1" fill="#d65b6d"/><rect x="124" y="370" width="1" height="1" fill="#e495a1"/><rect x="124" y="387" width="1" height="1" fill="#afddf4"/><rect x="124" y="391" width="1" height="1" fill="#afddf4"/><rect x="124" y="392" width="1" height="1" fill="#afddf4"/><rect x="125" y="351" width="1" height="1" fill="#e495a1"/><rect x="125" y="353" width="1" height="1" fill="#d65b6d"/><rect x="125" y="354" width="1" height="1" fill="#e495a1"/><rect x="125" y="355" width="1" height="1" fill="#ce3b51"/><rect x="125" y="357" width="1" height="1" fill="#c41630"/><rect x="125" y="358" width="1" height="1" fill="#c92a41"/><rect x="125" y="359" width="1" height="1" fill="#d65b6d"/><rect x="125" y="360" width="1" height="1" fill="#c72039"/><rect x="125" y="361" width="1" height="1" fill="#c31e38"/><rect x="125" y="362" width="1" height="1" fill="#d65b6d"/><rect x="125" y="363" width="1" height="1" fill="#d65b6d"/><rect x="125" y="364" width="1" height="1" fill="#d65b6d"/><rect x="125" y="367" width="1" height="1" fill="#e495a1"/><rect x="125" y="385" width="1" height="1" fill="#afddf4"/><rect x="125" y="386" width="1" height="1" fill="#afddf4"/><rect x="125" y="387" width="1" height="1" fill="#afddf4"/><rect x="126" y="351" width="1" height="1" fill="#e495a1"/><rect x="126" y="352" width="1" height="1" fill="#e495a1"/><rect x="126" y="353" width="1" height="1" fill="#d65b6d"/><rect x="126" y="354" width="1" height="1" fill="#e495a1"/><rect x="126" y="355" width="1" height="1" fill="#b9829b"/><rect x="126" y="356" width="1" height="1" fill="#ce3b51"/><rect x="126" y="357" width="1" height="1" fill="#e495a1"/><rect x="126" y="358" width="1" height="1" fill="#be516a"/><rect x="126" y="359" width="1" height="1" fill="#ce3b51"/><rect x="126" y="360" width="1" height="1" fill="#ce3b51"/><rect x="126" y="361" width="1" height="1" fill="#c92a41"/><rect x="126" y="362" width="1" height="1" fill="#ce3b51"/><rect x="126" y="363" width="1" height="1" fill="#d65b6d"/><rect x="126" y="365" width="1" height="1" fill="#e495a1"/><rect x="126" y="386" width="1" height="1" fill="#afddf4"/><rect x="126" y="387" width="1" height="1" fill="#7ec8ed"/><rect x="126" y="388" width="1" height="1" fill="#afddf4"/><rect x="127" y="351" width="1" height="1" fill="#be516a"/><rect x="127" y="352" width="1" height="1" fill="#ce3b51"/><rect x="127" y="353" width="1" height="1" fill="#e495a1"/><rect x="127" y="354" width="1" height="1" fill="#c61b34"/><rect x="127" y="355" width="1" height="1" fill="#c72039"/><rect x="127" y="357" width="1" height="1" fill="#c22640"/><rect x="127" y="358" width="1" height="1" fill="#ce3b51"/><rect x="127" y="359" width="1" height="1" fill="#ce3b51"/><rect x="127" y="360" width="1" height="1" fill="#ce3b51"/><rect x="127" y="361" width="1" height="1" fill="#c72039"/><rect x="127" y="363" width="1" height="1" fill="#b9829b"/><rect x="127" y="364" width="1" height="1" fill="#d65b6d"/><rect x="127" y="388" width="1" height="1" fill="#7ec8ed"/><rect x="127" y="389" width="1" height="1" fill="#afddf4"/><rect x="127" y="392" width="1" height="1" fill="#afddf4"/><rect x="128" y="349" width="1" height="1" fill="#e495a1"/><rect x="128" y="350" width="1" height="1" fill="#ce3b51"/><rect x="128" y="351" width="1" height="1" fill="#be516a"/><rect x="128" y="352" width="1" height="1" fill="#c72039"/><rect x="128" y="353" width="1" height="1" fill="#c92a41"/><rect x="128" y="354" width="1" height="1" fill="#c92a41"/><rect x="128" y="355" width="1" height="1" fill="#c92a41"/><rect x="128" y="356" width="1" height="1" fill="#b9829b"/><rect x="128" y="357" width="1" height="1" fill="#ce3b51"/><rect x="128" y="358" width="1" height="1" fill="#d65b6d"/><rect x="128" y="359" width="1" height="1" fill="#c92a41"/><rect x="128" y="360" width="1" height="1" fill="#ce3b51"/><rect x="128" y="363" width="1" height="1" fill="#e495a1"/><rect x="128" y="364" width="1" height="1" fill="#d65b6d"/><rect x="128" y="388" width="1" height="1" fill="#7ec8ed"/><rect x="128" y="389" width="1" height="1" fill="#afddf4"/><rect x="129" y="347" width="1" height="1" fill="#b9829b"/><rect x="129" y="349" width="1" height="1" fill="#d65b6d"/><rect x="129" y="350" width="1" height="1" fill="#ce3b51"/><rect x="129" y="351" width="1" height="1" fill="#c92a41"/><rect x="129" y="352" width="1" height="1" fill="#c61b34"/><rect x="129" y="353" width="1" height="1" fill="#ce3b51"/><rect x="129" y="354" width="1" height="1" fill="#c22640"/><rect x="129" y="355" width="1" height="1" fill="#c72039"/><rect x="129" y="356" width="1" height="1" fill="#c72039"/><rect x="129" y="359" width="1" height="1" fill="#d65b6d"/><rect x="129" y="360" width="1" height="1" fill="#e495a1"/><rect x="129" y="388" width="1" height="1" fill="#afddf4"/><rect x="130" y="345" width="1" height="1" fill="#e495a1"/><rect x="130" y="349" width="1" height="1" fill="#d65b6d"/><rect x="130" y="350" width="1" height="1" fill="#c31a33"/><rect x="130" y="351" width="1" height="1" fill="#c92a41"/><rect x="130" y="352" width="1" height="1" fill="#a54666"/><rect x="130" y="353" width="1" height="1" fill="#ce3b51"/><rect x="130" y="354" width="1" height="1" fill="#ce3b51"/><rect x="130" y="355" width="1" height="1" fill="#be516a"/><rect x="130" y="356" width="1" height="1" fill="#d65b6d"/><rect x="130" y="357" width="1" height="1" fill="#d65b6d"/><rect x="130" y="358" width="1" height="1" fill="#e495a1"/><rect x="130" y="359" width="1" height="1" fill="#e495a1"/><rect x="130" y="360" width="1" height="1" fill="#e495a1"/><rect x="130" y="361" width="1" height="1" fill="#afddf4"/><rect x="130" y="363" width="1" height="1" fill="#e495a1"/><rect x="130" y="365" width="1" height="1" fill="#e495a1"/><rect x="131" y="346" width="1" height="1" fill="#d65b6d"/><rect x="131" y="347" width="1" height="1" fill="#d65b6d"/><rect x="131" y="348" width="1" height="1" fill="#d65b6d"/><rect x="131" y="349" width="1" height="1" fill="#d65b6d"/><rect x="131" y="350" width="1" height="1" fill="#be516a"/><rect x="131" y="351" width="1" height="1" fill="#c01d38"/><rect x="131" y="352" width="1" height="1" fill="#c31e38"/><rect x="131" y="353" width="1" height="1" fill="#d65b6d"/><rect x="131" y="354" width="1" height="1" fill="#af4a68"/><rect x="131" y="355" width="1" height="1" fill="#be516a"/><rect x="131" y="356" width="1" height="1" fill="#afddf4"/><rect x="131" y="357" width="1" height="1" fill="#e495a1"/><rect x="131" y="358" width="1" height="1" fill="#ce3b51"/><rect x="131" y="359" width="1" height="1" fill="#e495a1"/><rect x="132" y="347" width="1" height="1" fill="#e495a1"/><rect x="132" y="348" width="1" height="1" fill="#c1354f"/><rect x="132" y="349" width="1" height="1" fill="#c61b34"/><rect x="132" y="350" width="1" height="1" fill="#d65b6d"/><rect x="132" y="351" width="1" height="1" fill="#c41630"/><rect x="132" y="352" width="1" height="1" fill="#be516a"/><rect x="132" y="353" width="1" height="1" fill="#af4a68"/><rect x="132" y="354" width="1" height="1" fill="#af4a68"/><rect x="132" y="355" width="1" height="1" fill="#e495a1"/><rect x="132" y="357" width="1" height="1" fill="#e495a1"/><rect x="133" y="345" width="1" height="1" fill="#afddf4"/><rect x="133" y="347" width="1" height="1" fill="#ce3b51"/><rect x="133" y="348" width="1" height="1" fill="#c22640"/><rect x="133" y="349" width="1" height="1" fill="#be516a"/><rect x="133" y="350" width="1" height="1" fill="#b9829b"/><rect x="133" y="351" width="1" height="1" fill="#e495a1"/><rect x="133" y="352" width="1" height="1" fill="#e495a1"/><rect x="133" y="353" width="1" height="1" fill="#afddf4"/><rect x="133" y="379" width="1" height="1" fill="#afddf4"/><rect x="134" y="344" width="1" height="1" fill="#afddf4"/><rect x="134" y="347" width="1" height="1" fill="#9d7797"/><rect x="134" y="348" width="1" height="1" fill="#b9829b"/><rect x="134" y="351" width="1" height="1" fill="#afddf4"/><rect x="134" y="352" width="1" height="1" fill="#afddf4"/><rect x="135" y="344" width="1" height="1" fill="#afddf4"/><rect x="135" y="345" width="1" height="1" fill="#afddf4"/><rect x="135" y="347" width="1" height="1" fill="#7ec8ed"/><rect x="135" y="348" width="1" height="1" fill="#7ec8ed"/><rect x="135" y="349" width="1" height="1" fill="#e495a1"/><rect x="135" y="353" width="1" height="1" fill="#afddf4"/><rect x="136" y="347" width="1" height="1" fill="#7ec8ed"/><rect x="136" y="348" width="1" height="1" fill="#afddf4"/><rect x="137" y="347" width="1" height="1" fill="#7ec8ed"/><rect x="137" y="348" width="1" height="1" fill="#afddf4"/><rect x="138" y="347" width="1" height="1" fill="#afddf4"/><rect x="146" y="359" width="1" height="1" fill="#afddf4"/>
<rect x="49.3" y="300.7" width="121.7" height="121.60000000000002" fill="none" stroke="#111" stroke-width="1.2"/>
<rect x="52.3" y="304.5" width="6.9" height="5.9" fill="#1a9ad6"/>
<rect x="52.3" y="316.2" width="6.9" height="5.7" fill="#d01933"/>
<text x="62.3" y="310.2" font-size="7.95" text-anchor="start" font-weight="normal" fill="#231f20" >LSK cells</text>
<text x="62.3" y="321.6" font-size="7.9" text-anchor="start" font-weight="normal" fill="#231f20" >LT-HSCs</text>
<path d="M49.3 315.5H46.2M49.3 353.8H46.2M49.3 389.2H46.2M49.3 342.3H47.3M49.3 335.5H47.3M49.3 330.7H47.3M49.3 327.0H47.3M49.3 324.0H47.3M49.3 321.4H47.3M49.3 319.2H47.3M49.3 317.3H47.3M49.3 358H47.5M49.3 361.5H47.5M49.3 364.5H47.5M49.3 367H47.5M49.3 369.5H47.5M49.3 372H47.5M49.3 374H47.5M49.3 376H47.5M49.3 378H47.5M49.3 380H47.5M49.3 382H47.5M49.3 383.5H47.5M49.3 385H47.5M49.3 386.2H47.5M49.3 387.4H47.5M49.3 388.4H47.5M49.3 390H47.5M49.3 391H47.5M49.3 392.2H47.5M49.3 393.4H47.5M49.3 395H47.5M49.3 397H47.5M49.3 400H47.5M49.3 404H47.5M49.3 409H47.5M49.3 414H47.5M49.3 419H47.5" stroke="#111" stroke-width="0.8"/>
<rect x="47" y="383" width="2.4" height="11.5" fill="#222" fill-opacity="0.85"/>
<rect x="45.6" y="388.2" width="3.7" height="1.6" fill="#111"/>
<path d="M81.7 422.3V425.6M128.2 422.3V425.6M158.5 422.3V425.6M137.3 422.3V424.5M142.7 422.3V424.5M146.4 422.3V424.5M149.4 422.3V424.5M151.8 422.3V424.5M153.8 422.3V424.5M155.6 422.3V424.5M157.1 422.3V424.5M54 422.3V424.4M58 422.3V424.4M62 422.3V424.4M66 422.3V424.4M70 422.3V424.4M73 422.3V424.4M75.5 422.3V424.4M77.5 422.3V424.4M79.2 422.3V424.4M80.5 422.3V424.4M83 422.3V424.4M84.3 422.3V424.4M86 422.3V424.4M88 422.3V424.4M90.5 422.3V424.4M93.5 422.3V424.4M97 422.3V424.4M101 422.3V424.4M105.5 422.3V424.4M110.5 422.3V424.4M116 422.3V424.4M121.5 422.3V424.4M161 422.3V424.4M164 422.3V424.4M167 422.3V424.4" stroke="#111" stroke-width="0.8"/>
<rect x="71" y="422.3" width="23" height="2.2" fill="#222" fill-opacity="0.85"/>
<text transform="translate(27.9,318.1)" font-size="8.2" fill="#231f20">10<tspan dx="0.2" dy="-3.7" font-size="6.3">5</tspan></text>
<text transform="translate(27.9,355.5)" font-size="8.2" fill="#231f20">10<tspan dx="0.2" dy="-3.7" font-size="6.3">4</tspan></text>
<text transform="translate(39.6,392) scale(0.95,1)" font-size="8.5" text-anchor="middle" fill="#231f20">0</text>
<text transform="translate(81.9,436.9) scale(0.95,1)" font-size="8.5" text-anchor="middle" fill="#231f20">0</text>
<text transform="translate(122.4,436.5)" font-size="8.2" fill="#231f20">10<tspan dx="0.2" dy="-3.7" font-size="6.3">4</tspan></text>
<text transform="translate(152.4,436.5)" font-size="8.2" fill="#231f20">10<tspan dx="0.2" dy="-3.7" font-size="6.3">5</tspan></text>
<text transform="translate(20.6,361.7) rotate(-90) scale(0.68,1)" x="0" y="0" font-size="9.2" font-weight="bold" text-anchor="middle" fill="#3a3a3a">CD51</text>
<text transform="translate(109.5,451.3) rotate(0) scale(0.64,1)" x="0" y="0" font-size="10" font-weight="bold" text-anchor="middle" fill="#3a3a3a">CD61</text>
<rect x="236.2" y="411.41" width="13.40" height="55.19" fill="#c30220"/><rect x="251.2" y="434.30" width="13.00" height="32.30" fill="#c30220"/><rect x="266.2" y="365.65" width="13.10" height="100.95" fill="#c30220"/><rect x="296" y="377.09" width="13.00" height="89.51" fill="#0f4b86"/><rect x="310.6" y="402.67" width="13.10" height="63.94" fill="#0f4b86"/><rect x="325.4" y="374.40" width="13.30" height="92.20" fill="#0f4b86"/><path d="M242.90 408.72V416.80M241.80 408.72h2.2M241.80 416.80h2.2" stroke="#222" stroke-width="0.7" fill="none"/><circle cx="242.90" cy="404.68" r="1.3" fill="#111"/><circle cx="241.40" cy="410.07" r="1.3" fill="#111"/><circle cx="243.90" cy="410.74" r="1.3" fill="#111"/><circle cx="244.90" cy="412.09" r="1.3" fill="#111"/><circle cx="240.90" cy="412.76" r="1.3" fill="#111"/><circle cx="242.90" cy="417.47" r="1.3" fill="#111"/><circle cx="242.90" cy="422.18" r="1.3" fill="#111"/><path d="M257.70 412.76V455.83M256.60 412.76h2.2M256.60 455.83h2.2" stroke="#222" stroke-width="0.7" fill="none"/><circle cx="257.70" cy="402.67" r="1.3" fill="#111"/><circle cx="257.70" cy="435.64" r="1.3" fill="#111"/><circle cx="257.70" cy="449.10" r="1.3" fill="#111"/><circle cx="257.70" cy="451.79" r="1.3" fill="#111"/><path d="M272.75 348.15V383.15M271.65 348.15h2.2M271.65 383.15h2.2" stroke="#222" stroke-width="0.7" fill="none"/><circle cx="272.75" cy="346.81" r="1.3" fill="#111"/><circle cx="272.75" cy="357.57" r="1.3" fill="#111"/><circle cx="270.25" cy="381.80" r="1.3" fill="#111"/><circle cx="275.25" cy="381.80" r="1.3" fill="#111"/><path d="M302.50 349.50V404.68M301.40 349.50h2.2M301.40 404.68h2.2" stroke="#222" stroke-width="0.7" fill="none"/><circle cx="302.50" cy="353.54" r="1.3" fill="#111"/><circle cx="302.50" cy="362.29" r="1.3" fill="#111"/><circle cx="302.50" cy="378.44" r="1.3" fill="#111"/><circle cx="302.50" cy="417.47" r="1.3" fill="#111"/><path d="M317.15 376.42V430.26M316.05 376.42h2.2M316.05 430.26h2.2" stroke="#222" stroke-width="0.7" fill="none"/><circle cx="317.15" cy="381.80" r="1.3" fill="#111"/><circle cx="314.65" cy="392.57" r="1.3" fill="#111"/><circle cx="319.65" cy="394.59" r="1.3" fill="#111"/><circle cx="317.15" cy="443.72" r="1.3" fill="#111"/><path d="M332.05 367.00V381.80M330.95 367.00h2.2M330.95 381.80h2.2" stroke="#222" stroke-width="0.7" fill="none"/><circle cx="328.55" cy="366.32" r="1.3" fill="#111"/><circle cx="332.55" cy="365.65" r="1.3" fill="#111"/><circle cx="334.05" cy="367.00" r="1.3" fill="#111"/><circle cx="332.05" cy="388.53" r="1.3" fill="#111"/>
<path d="M232.4 327.3V466.6H338.6M229.20000000000002 466.60H232.4M229.20000000000002 439.68H232.4M229.20000000000002 412.76H232.4M229.20000000000002 385.84H232.4M229.20000000000002 358.92H232.4M229.20000000000002 332.00H232.4M230.6 453.14H232.4M230.6 426.22H232.4M230.6 399.30H232.4M230.6 372.38H232.4M230.6 345.46H232.4M242.90 466.6V470.0M257.70 466.6V470.0M272.75 466.6V470.0M302.50 466.6V470.0M317.15 466.6V470.0M332.05 466.6V470.0" stroke="#222" stroke-width="1.2" fill="none"/>
<text x="225.3" y="469.70" font-size="8.6" text-anchor="end" font-weight="normal" fill="#231f20" >0</text>
<text x="225.3" y="442.78" font-size="8.6" text-anchor="end" font-weight="normal" fill="#231f20" >20</text>
<text x="225.3" y="415.86" font-size="8.6" text-anchor="end" font-weight="normal" fill="#231f20" >40</text>
<text x="225.3" y="388.94" font-size="8.6" text-anchor="end" font-weight="normal" fill="#231f20" >60</text>
<text x="225.3" y="362.02" font-size="8.6" text-anchor="end" font-weight="normal" fill="#231f20" >80</text>
<text x="225.3" y="335.10" font-size="8.6" text-anchor="end" font-weight="normal" fill="#231f20" >100</text>
<path d="M242.7 388.5V338.8H272.7V341.5" stroke="#666" stroke-width="0.9" fill="none"/>
<text x="258.2" y="338.3" font-size="8.2" text-anchor="middle" font-weight="normal" fill="#333" >**</text>
<path d="M242.6 395.4V392.3H258.1V398.5" stroke="#666" stroke-width="0.9" fill="none"/>
<text x="250.4" y="389.5" font-size="8.1" text-anchor="middle" font-weight="normal" fill="#333" >ns</text>
<path d="M302.3 338.5V330.6H332.1V358.1" stroke="#666" stroke-width="0.9" fill="none"/>
<text x="317" y="328.1" font-size="8.1" text-anchor="middle" font-weight="normal" fill="#333" >ns</text>
<path d="M302.3 345.5V343.4H317.3V376.5" stroke="#666" stroke-width="0.9" fill="none"/>
<text x="309.8" y="340.5" font-size="8.1" text-anchor="middle" font-weight="normal" fill="#333" >ns</text>
<text transform="translate(245.4,479.6) rotate(-45)" font-size="8" text-anchor="end" fill="#231f20">DMSO</text>
<text transform="translate(261,480.4) rotate(-45)" font-size="8" text-anchor="end" fill="#231f20">Tirofiban</text>
<text transform="translate(279.8,479.6) rotate(-45)" font-size="8" text-anchor="end" fill="#231f20">cyclo RGDyK</text>
<text transform="translate(304.1,479.6) rotate(-45)" font-size="8" text-anchor="end" fill="#231f20">DMSO</text>
<text transform="translate(319.8,480.4) rotate(-45)" font-size="8" text-anchor="end" fill="#231f20">Tirofiban</text>
<text transform="translate(338.1,479.6) rotate(-45)" font-size="8" text-anchor="end" fill="#231f20">cyclo RGDyK</text>
<text transform="translate(204.1,397.4) rotate(-90) scale(0.70,1)" font-size="10.3" text-anchor="middle" fill="#2a2a2a" stroke="#2a2a2a" stroke-width="0.35">% Divided cells</text>
<rect x="400.2" y="435.64" width="12.50" height="30.96" fill="#c30220"/><rect x="414.2" y="423.53" width="12.70" height="43.07" fill="#c30220"/><rect x="429" y="441.03" width="12.30" height="25.57" fill="#c30220"/><rect x="457.2" y="397.28" width="12.60" height="69.32" fill="#0f4b86"/><rect x="471.3" y="403.34" width="12.70" height="63.26" fill="#0f4b86"/><rect x="486" y="409.40" width="12.20" height="57.20" fill="#0f4b86"/><path d="M406.45 421.51V450.45M405.35 421.51h2.2M405.35 450.45h2.2" stroke="#222" stroke-width="0.7" fill="none"/><circle cx="406.45" cy="424.87" r="1.3" fill="#111"/><circle cx="406.45" cy="430.26" r="1.3" fill="#111"/><circle cx="406.45" cy="453.14" r="1.3" fill="#111"/><path d="M420.55 396.61V450.45M419.45 396.61h2.2M419.45 450.45h2.2" stroke="#222" stroke-width="0.7" fill="none"/><circle cx="420.55" cy="395.94" r="1.3" fill="#111"/><circle cx="420.55" cy="422.18" r="1.3" fill="#111"/><circle cx="420.55" cy="453.14" r="1.3" fill="#111"/><path d="M435.15 431.60V450.45M434.05 431.60h2.2M434.05 450.45h2.2" stroke="#222" stroke-width="0.7" fill="none"/><circle cx="435.15" cy="432.95" r="1.3" fill="#111"/><circle cx="435.15" cy="439.68" r="1.3" fill="#111"/><circle cx="435.15" cy="452.47" r="1.3" fill="#111"/><path d="M463.50 381.80V412.76M462.40 381.80h2.2M462.40 412.76h2.2" stroke="#222" stroke-width="0.7" fill="none"/><circle cx="463.50" cy="381.80" r="1.3" fill="#111"/><circle cx="463.50" cy="412.76" r="1.3" fill="#111"/><path d="M477.65 381.80V424.87M476.55 381.80h2.2M476.55 424.87h2.2" stroke="#222" stroke-width="0.7" fill="none"/><circle cx="477.65" cy="387.86" r="1.3" fill="#111"/><circle cx="477.65" cy="393.92" r="1.3" fill="#111"/><circle cx="477.65" cy="429.59" r="1.3" fill="#111"/><path d="M492.10 385.84V436.99M491.00 385.84h2.2M491.00 436.99h2.2" stroke="#222" stroke-width="0.7" fill="none"/><circle cx="492.10" cy="390.55" r="1.3" fill="#111"/><circle cx="492.10" cy="404.68" r="1.3" fill="#111"/><circle cx="492.10" cy="436.99" r="1.3" fill="#111"/>
<path d="M393.8 327.3V466.6H500.8M390.6 466.60H393.8M390.6 439.68H393.8M390.6 412.76H393.8M390.6 385.84H393.8M390.6 358.92H393.8M390.6 332.00H393.8M392.0 453.14H393.8M392.0 426.22H393.8M392.0 399.30H393.8M392.0 372.38H393.8M392.0 345.46H393.8M406.45 466.6V470.0M420.55 466.6V470.0M435.15 466.6V470.0M463.50 466.6V470.0M477.65 466.6V470.0M492.10 466.6V470.0" stroke="#222" stroke-width="1.2" fill="none"/>
<text x="386.7" y="469.70" font-size="8.6" text-anchor="end" font-weight="normal" fill="#231f20" >0</text>
<text x="386.7" y="442.78" font-size="8.6" text-anchor="end" font-weight="normal" fill="#231f20" >20</text>
<text x="386.7" y="415.86" font-size="8.6" text-anchor="end" font-weight="normal" fill="#231f20" >40</text>
<text x="386.7" y="388.94" font-size="8.6" text-anchor="end" font-weight="normal" fill="#231f20" >60</text>
<text x="386.7" y="362.02" font-size="8.6" text-anchor="end" font-weight="normal" fill="#231f20" >80</text>
<text x="386.7" y="335.10" font-size="8.6" text-anchor="end" font-weight="normal" fill="#231f20" >100</text>
<path d="M406.4 417.3V377.6H435.6V427.7" stroke="#666" stroke-width="0.9" fill="none"/>
<text x="421" y="374.8" font-size="8.1" text-anchor="middle" font-weight="normal" fill="#333" >ns</text>
<path d="M406.4 388V386.8H420.8V396" stroke="#666" stroke-width="0.9" fill="none"/>
<text x="413.5" y="384.8" font-size="8.1" text-anchor="middle" font-weight="normal" fill="#333" >ns</text>
<path d="M463.5 368V365.8H491.7V381.5" stroke="#666" stroke-width="0.9" fill="none"/>
<text x="477.9" y="363.7" font-size="8.1" text-anchor="middle" font-weight="normal" fill="#333" >ns</text>
<path d="M463.5 376.5V375.2H477.3V381" stroke="#666" stroke-width="0.9" fill="none"/>
<text x="470.7" y="372.6" font-size="8.1" text-anchor="middle" font-weight="normal" fill="#333" >ns</text>
<text transform="translate(408.8,479.6) rotate(-45)" font-size="8" text-anchor="end" fill="#231f20">DMSO</text>
<text transform="translate(423.1,480.4) rotate(-45)" font-size="8" text-anchor="end" fill="#231f20">Tirofiban</text>
<text transform="translate(438.8,479.6) rotate(-45)" font-size="8" text-anchor="end" fill="#231f20">cyclo RGDyK</text>
<text transform="translate(467.5,479.6) rotate(-45)" font-size="8" text-anchor="end" fill="#231f20">DMSO</text>
<text transform="translate(481.3,480.4) rotate(-45)" font-size="8" text-anchor="end" fill="#231f20">Tirofiban</text>
<text transform="translate(495,479.6) rotate(-45)" font-size="8" text-anchor="end" fill="#231f20">cyclo RGDyK</text>
<text transform="translate(365.6,397.4) rotate(-90) scale(0.70,1)" font-size="10.3" text-anchor="middle" fill="#2a2a2a" stroke="#2a2a2a" stroke-width="0.35">% Divided cells</text>
<text x="286" y="291.8" font-size="8.75" text-anchor="middle" font-weight="normal" fill="#231f20" >StemSpan + 10% FCS</text>
<text x="286" y="301.5" font-size="8.65" text-anchor="middle" font-weight="normal" fill="#231f20" >(+Il-11, SCF, Flt3)</text>
<text x="449.5" y="291.3" font-size="8.45" text-anchor="middle" font-weight="normal" fill="#231f20" >StemSpan</text>
<text x="449.7" y="301.9" font-size="8.6" text-anchor="middle" font-weight="normal" fill="#231f20" >(+Il-11, SCF, Flt3)</text>
<text x="242.1" y="318.6" font-size="8.8" fill="#231f20">CD61<tspan dx="0.6" dy="-3.3" font-size="6.8">High</tspan></text>
<path d="M240.6 321.2H280.2" stroke="#555" stroke-width="1"/>
<text x="300.6" y="318.6" font-size="8.8" fill="#231f20">CD61<tspan dx="0.6" dy="-3.3" font-size="6.8">Low</tspan></text>
<path d="M298.3 321.2H338.3" stroke="#555" stroke-width="1"/>
<text x="402.8" y="318.6" font-size="8.8" fill="#231f20">CD61<tspan dx="0.6" dy="-3.3" font-size="6.8">High</tspan></text>
<path d="M401.1 321.2H440.9" stroke="#555" stroke-width="1"/>
<text x="461.7" y="318.6" font-size="8.8" fill="#231f20">CD61<tspan dx="0.6" dy="-3.3" font-size="6.8">Low</tspan></text>
<path d="M459.6 321.2H499.4" stroke="#555" stroke-width="1"/>
<rect x="0.5" y="0.5" width="519" height="521" fill="none" stroke="#4a4a4a" stroke-width="1"/></svg>
</body></html>
